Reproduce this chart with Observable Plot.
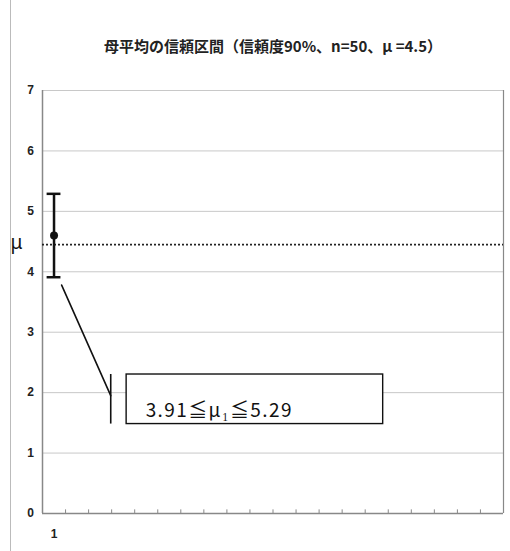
<!DOCTYPE html>
<html><head><meta charset="utf-8">
<script src="https://cdn.jsdelivr.net/npm/d3@7"></script>
<script src="https://cdn.jsdelivr.net/npm/@observablehq/plot@0.6"></script>
<style>
body{margin:0;background:#fff;}
#wrap{position:relative;width:510px;height:551px;}
#frame{position:absolute;left:10px;top:-2px;width:520px;height:560px;border:1px solid #bbb;pointer-events:none;}
.lbl text{letter-spacing:1.4px;}
</style></head><body>
<div id="wrap"><div id="frame"></div></div>
<script>
const title = "母平均の信頼区間（信頼度90%、n=50、μ =4.5）";
const samples = [1];
const means = [4.6];
const lower = [3.91];
const upper = [5.29];
const mu = 4.45;
const yTicks = [0,1,2,3,4,5,6,7];
const nCats = 20;
const label = "3.91≦μ₁≦5.29";
const catBounds = d3.range(1.5, nCats, 1);
const data = samples.map((s,i)=>({s, m:means[i], lo:lower[i], hi:upper[i]}));
const leader = [{x:1.33,y:3.78},{x:3.46,y:1.95}];
const box = {x1:4.15,x2:15.28,y1:1.48,y2:2.3};
const cap = 0.3;

const chart = Plot.plot({
  width:510, height:551,
  marginLeft:42, marginRight:7, marginTop:90, marginBottom:38,
  style:{background:"transparent", overflow:"visible"},
  x:{type:"linear", domain:[0.5, nCats+0.5], axis:null},
  y:{type:"linear", domain:[0,7], axis:null},
  marks:[
    Plot.ruleY(yTicks.slice(1), {stroke:"#c8c8c8", strokeWidth:1}),
    Plot.ruleX([nCats+0.5], {stroke:"#888", strokeWidth:1.2}),
    Plot.ruleX([0.5], {stroke:"#888", strokeWidth:1.5}),
    Plot.ruleY([0], {stroke:"#888", strokeWidth:1.5}),
    Plot.ruleX(catBounds, {x:d=>d, y1:0, y2:0.06, stroke:"#888"}),
    Plot.text(yTicks, {x:()=>0.5, y:d=>d, text:d=>String(d), dx:-12, textAnchor:"middle", fontWeight:"bold", fontSize:12, fill:"#222", fontFamily:"Liberation Sans, Arial"}),
    Plot.text(samples, {x:d=>d, y:()=>0, dy:21, text:d=>String(d), fontWeight:"bold", fontSize:12, fill:"#222", fontFamily:"Liberation Sans, Arial"}),
    Plot.ruleY([mu], {stroke:"#222", strokeWidth:1.6, strokeDasharray:"2,2"}),
    Plot.text(["μ"], {x:()=>0.5, y:()=>mu, dx:-32, dy:-2, text:d=>d, fontSize:19, fill:"#111", fontFamily:"Noto Sans", textAnchor:"start"}),
    Plot.ruleX(data, {x:"s", y1:"lo", y2:"hi", stroke:"#111", strokeWidth:2.5}),
    Plot.ruleY(data, {y:"lo", x1:d=>d.s-cap, x2:d=>d.s+cap, stroke:"#111", strokeWidth:2.5}),
    Plot.ruleY(data, {y:"hi", x1:d=>d.s-cap, x2:d=>d.s+cap, stroke:"#111", strokeWidth:2.5}),
    Plot.dot(data, {x:"s", y:"m", r:4, fill:"#111"}),
    Plot.line(leader, {x:"x", y:"y", stroke:"#111", strokeWidth:1.6}),
    Plot.ruleX([leader[1].x], {y1:box.y1, y2:box.y2, stroke:"#111", strokeWidth:1.6}),
    Plot.rect([box], {x1:"x1", x2:"x2", y1:"y1", y2:"y2", fill:"white", stroke:"#111", strokeWidth:1.4}),
    Plot.text([label], {x:()=>box.x1, y:()=>box.y1, dx:19, dy:-13, text:d=>d, textAnchor:"start", fontSize:19, fill:"#111", fontFamily:"Noto Sans CJK JP", className:"lbl"}),
    Plot.text([title], {x:()=>(nCats+1)/2, y:()=>7, dy:-43, text:d=>d, fontSize:15, fontWeight:"bold", fill:"#222", fontFamily:"Noto Sans CJK JP"})
  ]
});
document.getElementById("wrap").prepend(chart);
</script></body></html>
